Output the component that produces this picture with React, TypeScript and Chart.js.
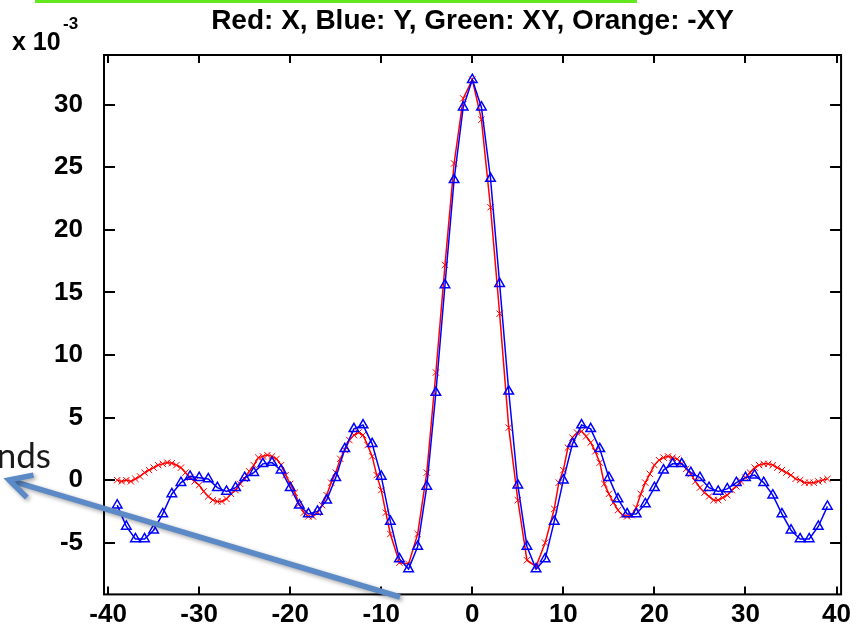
import { useEffect, useRef } from "react";
import { Chart, registerables } from "chart.js";

Chart.register(...registerables);

const TITLE = "Red: X, Blue: Y, Green: XY, Orange: -XY";
const SCALE_LABEL = "x 10";
const SCALE_EXP = "-3";
const SIDE_TEXT = "nds";

const X_TICKS = [-40, -30, -20, -10, 0, 10, 20, 30, 40];
const Y_TICKS = [-5, 0, 5, 10, 15, 20, 25, 30];

// Blue: Y
const BLUE_X = [
  -39, -38, -37, -36, -35, -34, -33, -32, -31, -30, -29, -28, -27, -26, -25, -24, -23, -22, -21, -20,
  -19, -18, -17, -16, -15, -14, -13, -12, -11, -10, -9, -8, -7, -6, -5, -4, -3, -2, -1, 0,
  1, 2, 3, 4, 5, 6, 7, 8, 9, 10, 11, 12, 13, 14, 15, 16, 17, 18, 19, 20,
  21, 22, 23, 24, 25, 26, 27, 28, 29, 30, 31, 32, 33, 34, 35, 36, 37, 38, 39,
];
const BLUE_Y = [
  -2.0, -3.7, -4.7, -4.7, -4.0, -2.7, -1.1, -0.2, 0.3, 0.2, 0.1, -0.6, -0.9, -0.6, 0.2, 0.6, 1.3, 1.4, 0.8, -0.6,
  -2.0, -2.7, -2.5, -1.6, 0.2, 2.5, 4.1, 4.4, 2.9, 0.3, -3.3, -6.3, -7.1, -5.3, -0.5, 7.0, 15.6, 24.0, 29.8, 32.0,
  29.8, 24.1, 15.7, 7.1, -0.4, -5.3, -7.1, -6.3, -3.3, 0.0, 2.9, 4.4, 4.1, 2.5, 0.2, -1.5, -2.7, -2.7, -1.9, -0.6,
  0.8, 1.3, 1.3, 0.6, 0.2, -0.6, -0.9, -0.7, -0.2, 0.2, 0.4, -0.2, -1.2, -2.7, -4.0, -4.7, -4.7, -3.7, -2.1,
];

// Red: X
const RED_X = [
  -39, -38.5, -38, -37.5, -37, -36.5, -36, -35.5, -35, -34.5, -34, -33.5, -33, -32.5, -32, -31.5, -31, -30.5, -30, -29.5,
  -29, -28.5, -28, -27.5, -27, -26.5, -26, -25.5, -25, -24.5, -24, -23.5, -23, -22.5, -22, -21.5, -21, -20.5, -20, -19.5,
  -19, -18.5, -18, -17.5, -17, -16.5, -16, -15.5, -15, -14.5, -14, -13.5, -13, -12.5, -12, -11.5, -11, -10.5, -10, -9.5,
  -9, -8, -7, -6, -5, -4, -3, -2, -1, 0, 1, 2, 3, 4, 5, 6, 7, 8,
  9, 9.5, 10, 10.5, 11, 11.5, 12, 12.5, 13, 13.5, 14, 14.5, 15, 15.5, 16, 16.5, 17, 17.5, 18, 18.5,
  19, 19.5, 20, 20.5, 21, 21.5, 22, 22.5, 23, 23.5, 24, 24.5, 25, 25.5, 26, 26.5, 27, 27.5, 28, 28.5,
  29, 29.5, 30, 30.5, 31, 31.5, 32, 32.5, 33, 33.5, 34, 34.5, 35, 35.5, 36, 36.5, 37, 37.5, 38, 38.5, 39,
];
const RED_Y = [
  0.0, -0.1, 0.0, -0.1, 0.1, 0.3, 0.6, 0.8, 1.0, 1.2, 1.3, 1.4, 1.35, 1.2, 1.0, 0.6, 0.2, -0.1, -0.4, -0.9,
  -1.3, -1.6, -1.7, -1.7, -1.5, -1.1, -0.8, -0.3, 0.1, 0.7, 1.2, 1.8, 1.9, 2.0, 1.9, 1.7, 1.2, 0.4, -0.3, -1.0,
  -1.9, -2.6, -2.9, -2.9, -2.6, -2.0, -1.2, -0.2, 0.6, 1.7, 2.4, 3.2, 3.6, 3.8, 3.6, 2.8, 1.9, 0.4, -0.8, -2.6,
  -4.3, -6.6, -6.7, -4.3, 0.6, 8.6, 17.2, 25.3, 30.5, 32.0, 28.8, 21.8, 13.3, 4.2, -1.6, -6.4, -6.9, -5.0,
  -2.3, -0.2, 0.8, 2.6, 3.4, 3.8, 3.9, 3.5, 3.0, 2.3, 1.4, -0.3, -1.1, -1.8, -2.4, -2.8, -2.9, -2.8, -2.2, -1.1,
  -0.2, 0.5, 1.2, 1.6, 1.8, 1.9, 1.8, 1.7, 1.3, 0.9, 0.5, -0.1, -0.6, -1.0, -1.3, -1.6, -1.6, -1.4, -1.2, -0.8,
  -0.5, -0.1, 0.2, 0.6, 1.0, 1.2, 1.3, 1.3, 1.2, 1.0, 0.8, 0.6, 0.4, 0.1, 0.0, -0.2, -0.2, -0.2, -0.1, 0.0, 0.1,
];

const FONT = "'Liberation Sans', Arial, sans-serif";

const decor = {
  id: "decor",
  beforeDatasetsDraw(chart: any) {
    const { ctx, chartArea: a, scales } = chart;
    ctx.save();
    ctx.strokeStyle = "#000";
    ctx.lineWidth = 2;
    ctx.strokeRect(a.left, a.top, a.right - a.left, a.bottom - a.top);
    ctx.beginPath();
    for (const v of X_TICKS) {
      const px = Math.round(scales.x.getPixelForValue(v));
      ctx.moveTo(px, a.bottom);
      ctx.lineTo(px, a.bottom - 8);
      ctx.moveTo(px, a.top);
      ctx.lineTo(px, a.top + 8);
    }
    for (const v of Y_TICKS) {
      const py = Math.round(scales.y.getPixelForValue(v));
      ctx.moveTo(a.left, py);
      ctx.lineTo(a.left + 11, py);
      ctx.moveTo(a.right, py);
      ctx.lineTo(a.right - 11, py);
    }
    ctx.stroke();
    ctx.restore();
  },
  afterDraw(chart: any) {
    const { ctx, chartArea: a } = chart;
    ctx.save();
    // green highlight line at top
    ctx.fillStyle = "#62e81c";
    ctx.fillRect(35, 0, 602, 3);
    // title
    ctx.fillStyle = "#000";
    ctx.font = `bold 28px ${FONT}`;
    ctx.textAlign = "center";
    ctx.textBaseline = "alphabetic";
    ctx.fillText(TITLE, (a.left + a.right) / 2, 29);
    // x 10^-3
    ctx.textAlign = "left";
    ctx.font = `bold 25px ${FONT}`;
    ctx.fillText(SCALE_LABEL, 12, 50);
    ctx.font = `bold 17px ${FONT}`;
    ctx.fillText(SCALE_EXP, 63, 29);
    // side text
    ctx.font = `35px Lato, sans-serif`;
    ctx.fillStyle = "#1a1a1a";
    ctx.textAlign = "right";
    ctx.fillText(SIDE_TEXT, 51, 468);
    // arrow
    const tip = { x: 9, y: 480 };
    const tail = { x: 400, y: 597 };
    const dx = tail.x - tip.x;
    const dy = tail.y - tip.y;
    const len = Math.hypot(dx, dy);
    const ux = dx / len;
    const uy = dy / len;
    const ang = (28 * Math.PI) / 180;
    const hl = 25;
    const r1 = { x: ux * Math.cos(ang) - uy * Math.sin(ang), y: ux * Math.sin(ang) + uy * Math.cos(ang) };
    const r2 = { x: ux * Math.cos(-ang) - uy * Math.sin(-ang), y: ux * Math.sin(-ang) + uy * Math.cos(-ang) };
    ctx.shadowColor = "rgba(0,0,0,0.35)";
    ctx.shadowBlur = 4;
    ctx.shadowOffsetX = 2;
    ctx.shadowOffsetY = 2;
    ctx.strokeStyle = "#5b8ac6";
    ctx.lineWidth = 5.5;
    ctx.lineCap = "butt";
    ctx.lineJoin = "miter";
    ctx.beginPath();
    ctx.moveTo(tail.x, tail.y);
    ctx.lineTo(tip.x + ux * 2, tip.y + uy * 2);
    ctx.stroke();
    ctx.beginPath();
    ctx.moveTo(tip.x + r1.x * hl, tip.y + r1.y * hl);
    ctx.lineTo(tip.x, tip.y);
    ctx.lineTo(tip.x + r2.x * hl, tip.y + r2.y * hl);
    ctx.stroke();
    ctx.restore();
  },
};

export default function App() {
  const ref = useRef<HTMLCanvasElement | null>(null);

  useEffect(() => {
    document.body.style.margin = "0";
    const canvas = ref.current;
    if (!canvas) return;
    const chart = new Chart(canvas, {
      type: "line",
      data: {
        datasets: [
          {
            label: "Y",
            data: BLUE_X.map((x, i) => ({ x, y: BLUE_Y[i] })),
            borderColor: "#0000ff",
            backgroundColor: "rgba(0,0,0,0)",
            borderWidth: 1.5,
            pointStyle: "triangle",
            pointRadius: 5.5,
            pointBorderWidth: 1.5,
            pointBorderColor: "#0000ff",
            pointBackgroundColor: "rgba(0,0,0,0)",
            tension: 0,
            fill: false,
          },
          {
            label: "X",
            data: RED_X.map((x, i) => ({ x, y: RED_Y[i] })),
            borderColor: "#ff0000",
            backgroundColor: "rgba(0,0,0,0)",
            borderWidth: 1.5,
            pointStyle: "crossRot",
            pointRadius: 4.5,
            pointBorderWidth: 1,
            pointBorderColor: "#ff0000",
            tension: 0,
            fill: false,
          },
        ],
      },
      options: {
        responsive: false,
        animation: false,
        events: [],
        layout: { padding: { top: 55, right: 3, left: 0, bottom: 0 }, autoPadding: false },
        plugins: { legend: { display: false }, tooltip: { enabled: false }, title: { display: false } },
        scales: {
          x: {
            type: "linear",
            min: -40.45,
            max: 40.5,
            grid: { display: false, drawTicks: false },
            border: { display: false },
            afterBuildTicks: (s: any) => {
              s.ticks = X_TICKS.map((v) => ({ value: v }));
            },
            afterFit: (s: any) => {
              s.height = 33;
            },
            ticks: {
              autoSkip: false,
              maxRotation: 0,
              padding: 5,
              color: "#000",
              font: { family: FONT, size: 26, weight: "bold" },
            },
          },
          y: {
            type: "linear",
            min: -9.13,
            max: 33.97,
            grid: { display: false, drawTicks: false },
            border: { display: false },
            afterBuildTicks: (s: any) => {
              s.ticks = Y_TICKS.map((v) => ({ value: v }));
            },
            afterFit: (s: any) => {
              s.width = 104;
            },
            ticks: {
              autoSkip: false,
              padding: 21,
              color: "#000",
              font: { family: FONT, size: 26, weight: "bold" },
            },
          },
        },
      },
      plugins: [decor],
    });
    return () => chart.destroy();
  }, []);

  return (
    <div style={{ position: "fixed", left: 0, top: 0, width: 856, height: 631 }}>
      <canvas ref={ref} width={856} height={631} style={{ display: "block", width: 856, height: 631 }} />
    </div>
  );
}
